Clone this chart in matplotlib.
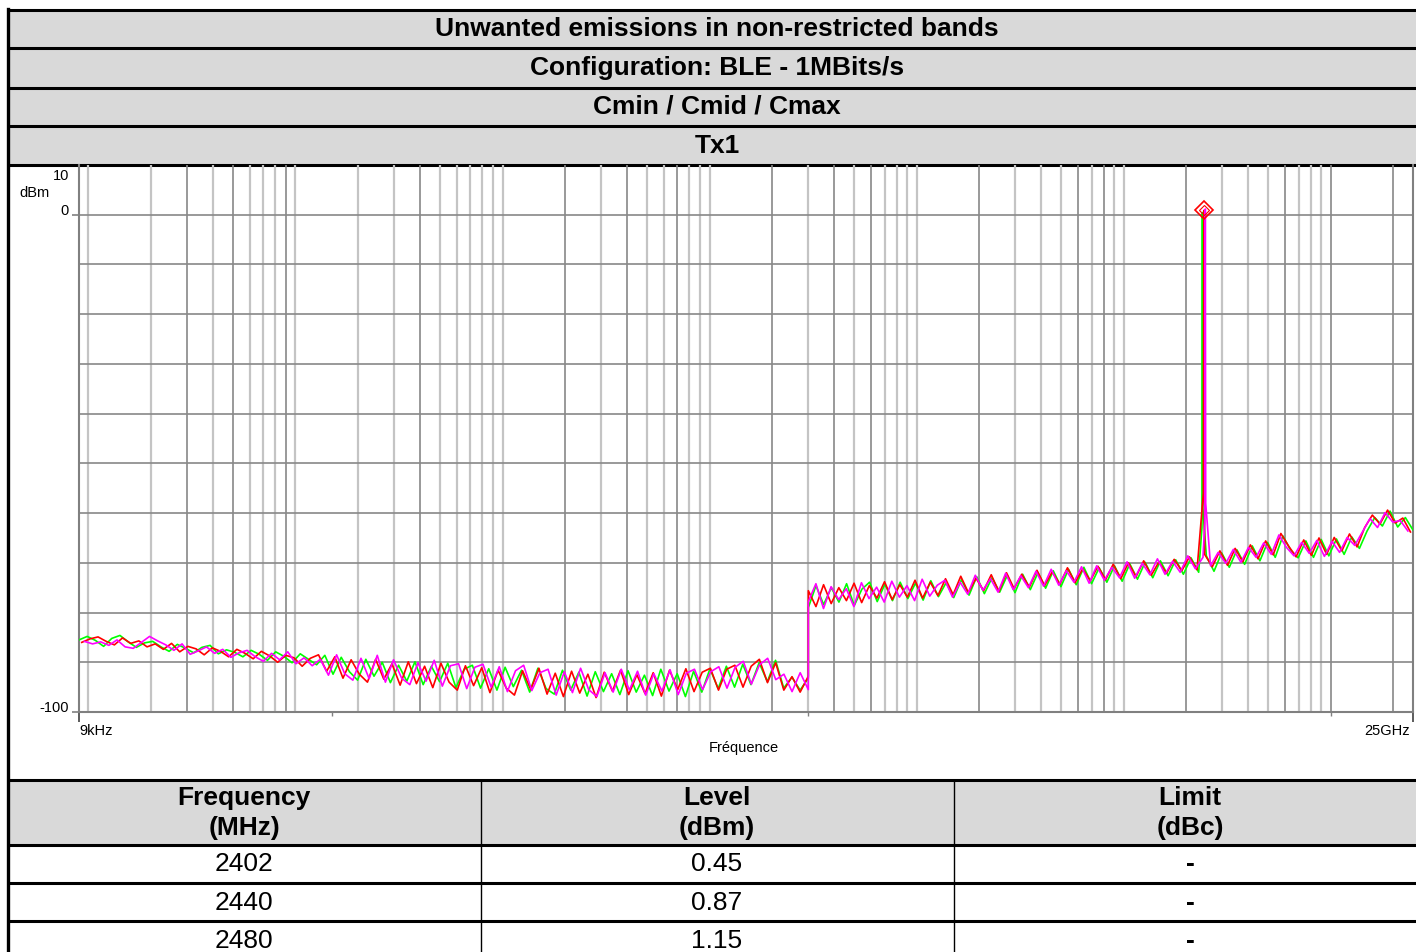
import numpy as np
import matplotlib.pyplot as plt
from matplotlib.patches import Rectangle
from matplotlib.ticker import NullFormatter
import matplotlib.transforms as mtransforms

plt.rcParams['font.family'] = ['Liberation Sans', 'DejaVu Sans']

# ---------------- data ----------------
title_rows = ['Unwanted emissions in non-restricted bands',
              'Configuration: BLE - 1MBits/s',
              'Cmin / Cmid / Cmax',
              'Tx1']
header_top = ['Frequency', 'Level', 'Limit']
header_unit = ['(MHz)', '(dBm)', '(dBc)']
channel_mhz = [2402, 2440, 2480]
channel_level = [0.45, 0.87, 1.15]
channel_limit = ['-', '-', '-']
skirt_level = [-63.0, -56.0, -62.0]
trace_colors = ['#00ff00', '#ff0000', '#ff00ff']

f_start, f_split, f_stop = 9e3, 30e6, 25e9

green_low = [-85.5, -84.8, -85.6, -86.8, -85.2, -84.6, -85.9, -87.0, -86.1, -85.8,
             -86.9, -87.8, -86.4, -87.2, -88.1, -87.0, -86.6, -88.3, -87.5, -88.0,
             -88.9, -87.6, -88.4, -89.6, -87.9, -88.8, -90.1, -88.3, -89.4, -90.5,
             -88.6, -92.4, -89.0, -91.9, -93.6, -89.4, -92.8, -90.0, -94.1, -90.6,
             -93.8, -89.9, -94.5, -90.8, -93.9, -90.2, -95.1, -91.4, -90.6, -95.2,
             -91.3, -95.6, -91.0, -94.9, -91.6, -96.0, -91.2, -95.3, -96.4, -91.6,
             -95.6, -92.0, -96.8, -91.9, -95.9, -92.3, -96.5, -91.7, -96.0, -92.6,
             -96.7, -91.4, -95.8, -92.3, -96.9, -91.8, -96.0, -91.3, -95.3, -90.8,
             -95.0, -90.4, -94.5, -90.1, -93.9, -89.6, -95.2, -93.0, -95.6, -93.2]
red_low = [-86.0, -85.3, -84.9, -85.8, -86.5, -85.1, -86.2, -85.7, -86.9, -86.3,
           -87.4, -86.2, -87.9, -86.8, -87.3, -88.5, -87.1, -87.8, -88.9, -87.4,
           -88.2, -89.3, -87.8, -88.7, -90.0, -88.6, -89.1, -90.8, -89.2, -88.5,
           -91.8, -88.9, -93.2, -89.5, -92.4, -94.0, -89.4, -93.4, -90.3, -94.6,
           -89.9, -94.3, -90.8, -95.1, -90.2, -94.0, -95.6, -90.7, -94.7, -91.1,
           -96.1, -91.6, -95.2, -96.6, -91.7, -95.5, -91.2, -96.4, -92.2, -96.9,
           -91.8, -96.2, -92.4, -97.1, -92.0, -95.8, -91.6, -96.5, -92.5, -96.3,
           -92.1, -96.8, -91.6, -95.5, -91.3, -95.9, -92.0, -91.2, -95.6, -91.4,
           -90.6, -95.0, -90.8, -89.4, -94.1, -90.1, -95.6, -92.9, -96.0, -92.8]
magenta_low = [-85.8, -86.3, -85.9, -86.6, -85.5, -86.9, -87.2, -86.0, -84.8, -85.7,
               -86.5, -87.6, -86.3, -88.4, -87.7, -86.9, -88.2, -87.4, -89.0, -88.1,
               -87.6, -88.9, -89.8, -88.2, -89.5, -87.9, -90.3, -89.1, -90.7, -89.4,
               -92.6, -88.5, -92.3, -93.6, -89.2, -93.3, -88.6, -94.0, -89.5, -93.2,
               -94.5, -90.1, -93.8, -89.6, -94.8, -90.7, -90.3, -95.3, -91.0, -90.4,
               -95.0, -90.9, -95.9, -91.7, -90.6, -95.7, -92.1, -91.4, -96.6, -91.9,
               -96.1, -91.2, -95.5, -96.9, -92.1, -96.0, -91.4, -95.6, -91.8, -96.6,
               -92.3, -95.8, -91.5, -96.5, -92.2, -91.4, -95.5, -91.9, -90.9, -95.2,
               -91.0, -89.8, -94.4, -90.5, -89.2, -93.5, -92.4, -95.9, -92.1, -95.5]

green_high = [-79.0, -74.6, -78.4, -75.0, -77.9, -74.2, -78.6, -75.3, -73.9, -77.8,
              -74.3, -77.6, -73.9, -77.2, -74.1, -77.5, -73.6, -76.8, -74.0, -77.0,
              -73.4, -76.5, -72.8, -76.2, -73.0, -75.9, -72.5, -76.0, -72.3, -75.4,
              -72.0, -75.1, -71.6, -74.8, -71.3, -74.4, -70.9, -74.2, -71.0, -73.9,
              -70.6, -73.7, -70.2, -73.3, -69.9, -73.0, -69.6, -72.6, -69.4, -72.3,
              -69.0, -71.9, -68.6, -71.7, -68.0, -70.9, -67.4, -70.3, -66.6, -69.6,
              -65.9, -68.9, -64.6, -67.4, -69.0, -65.6, -68.9, -65.3, -68.6, -65.2,
              -68.3, -64.8, -67.1, -63.6, -60.9, -62.6, -59.6, -62.8, -60.9, -63.4]
red_high = [-75.6, -78.8, -74.4, -78.2, -75.0, -77.6, -74.1, -78.0, -74.6, -77.1,
            -73.8, -77.4, -74.4, -76.9, -73.5, -77.1, -73.9, -76.6, -73.2, -76.4,
            -72.7, -76.0, -73.1, -75.6, -72.4, -75.8, -72.0, -75.2, -72.3, -74.9,
            -71.5, -74.6, -71.8, -74.3, -71.0, -74.0, -71.2, -73.6, -70.7, -73.4,
            -70.3, -73.2, -70.0, -72.8, -69.6, -72.5, -69.8, -72.1, -69.3, -71.6,
            -68.8, -71.4, -68.3, -70.8, -67.6, -70.5, -67.1, -69.8, -66.4, -69.2,
            -65.6, -68.4, -64.1, -66.6, -68.8, -65.4, -68.5, -65.0, -68.3, -64.9,
            -67.6, -64.2, -66.8, -62.9, -60.4, -62.2, -59.4, -62.0, -61.0, -63.8]
magenta_high = [-77.8, -74.2, -79.2, -74.8, -77.4, -75.2, -78.8, -74.0, -77.2, -74.9,
                -77.9, -73.7, -76.9, -74.6, -77.6, -73.3, -76.7, -74.5, -73.5, -76.9,
                -73.9, -76.3, -72.5, -75.5, -73.2, -75.9, -72.1, -75.4, -72.6, -75.0,
                -71.7, -74.7, -71.3, -74.5, -71.6, -73.9, -70.8, -74.1, -70.6, -73.5,
                -70.9, -73.0, -69.8, -73.1, -70.1, -72.4, -69.2, -72.3, -69.7, -71.9,
                -68.6, -71.2, -68.9, -70.6, -67.9, -70.1, -67.3, -69.9, -66.9, -68.9,
                -66.0, -68.3, -64.4, -66.9, -68.6, -65.9, -68.1, -65.5, -68.7, -65.7,
                -67.9, -64.9, -66.5, -63.8, -61.1, -62.9, -59.9, -61.8, -61.5, -63.6]

low_sweeps = [green_low, red_low, magenta_low]
high_sweeps = [green_high, red_high, magenta_high]
dark_grid = [30e3, 50e3, 90e3, 400e3, 2e6, 4e6, 7e6, 20e6, 40e6, 60e6,
             200e6, 600e6, 800e6, 2e9, 6e9, 10e9, 20e9]


def build_trace(low, high, f_c, peak, skirt, shift):
    # each sweep's sample grid is offset by a fraction of a bin
    r_lo = (f_split / f_start) ** (1 / (len(low) - 1))
    r_hi = (f_stop / f_split) ** (1 / (len(high) - 1))
    f_lo = np.geomspace(f_start * r_lo ** shift, f_split, len(low))
    f_hi = np.geomspace(f_split, f_stop / r_hi ** shift, len(high))
    f = np.concatenate([f_lo, f_hi,
                        [f_c * 0.995, f_c * 0.9995, f_c * 1.0005, f_c * 1.005]])
    y = np.concatenate([low, high, [skirt, peak, peak, skirt + 4]])
    order = np.argsort(f, kind='stable')
    return f[order], y[order]


fig = plt.figure(figsize=(14.16, 9.52), dpi=100)

# ---- surrounding table (pixel layout) ----
bg = fig.add_axes([0, 0, 1, 1])
bg.set_xlim(0, 1416)
bg.set_ylim(952, 0)
bg.axis('off')
grey = '#d9d9d9'
bg.add_patch(Rectangle((8, 10), 1419, 155, fc=grey, ec='none'))
bg.add_patch(Rectangle((8, 780), 1419, 65, fc=grey, ec='none'))
for yy in [10, 48, 88, 126, 165, 780, 845, 883, 921]:
    bg.plot([8, 1427], [yy, yy], color='black', lw=2.2, solid_capstyle='butt')
bg.plot([8, 8], [9, 952], color='black', lw=2.4)
for xx in [481, 954]:
    bg.plot([xx, xx], [780, 952], color='black', lw=1.0)

fs = 19
row_y = [29, 68, 106, 146]
for txt, yy in zip(title_rows, row_y):
    bg.text(717, yy, txt, ha='center', va='center', fontsize=fs, fontweight='bold')

col_x = [244, 717, 1190]
for cx, top, unit in zip(col_x, header_top, header_unit):
    bg.text(cx, 798, top, ha='center', va='center', fontsize=fs, fontweight='bold')
    bg.text(cx, 828, unit, ha='center', va='center', fontsize=fs, fontweight='bold')
for ry, fr, lv, lim in zip([864, 903, 941], channel_mhz, channel_level, channel_limit):
    bg.text(col_x[0], ry, str(fr), ha='center', va='center', fontsize=fs)
    bg.text(col_x[1], ry, '%.2f' % lv, ha='center', va='center', fontsize=fs)
    bg.text(col_x[2], ry, lim, ha='center', va='center', fontsize=fs, fontweight='bold')

# ---- spectrum plot ----
ax = fig.add_axes([79 / 1416, (952 - 712) / 952, (1413 - 79) / 1416, (712 - 165) / 952])
ax.set_zorder(2)
ax.patch.set_alpha(0)
ax.set_xscale('log')
ax.set_xlim(f_start, f_stop)
ax.set_ylim(-100, 10)

for dec in range(3, 11):
    for k in range(1, 10):
        f = k * 10.0 ** dec
        if f_start < f < f_stop:
            dark = any(abs(f / d - 1) < 1e-6 for d in dark_grid)
            ax.axvline(f, color='#888888' if dark else '#c4c4c4',
                       lw=1.2 if dark else 1.6, zorder=1)
for lv in range(-90, 10, 10):
    ax.axhline(lv, color='#888888', lw=1.2, zorder=1)

for i, (low, high, fc, pk, sk, col) in enumerate(zip(low_sweeps, high_sweeps, channel_mhz,
                                                     channel_level, skirt_level, trace_colors)):
    f, y = build_trace(low, high, fc * 1e6, pk, sk, i / 3)
    ax.plot(f, y, color=col, lw=1.2, zorder=3)

# peak marker
ax.plot(channel_mhz[1] * 1e6, channel_level[1], marker='D', ms=9, mfc='none',
        mec='red', mew=1.2, zorder=4)
ax.plot(channel_mhz[1] * 1e6, channel_level[1], marker='D', ms=5, mfc='none',
        mec='red', mew=0.8, zorder=4)

for side in ['left', 'bottom', 'right']:
    ax.spines[side].set_color('#808080')
    ax.spines[side].set_linewidth(1.5)
ax.spines['top'].set_visible(False)

ax.set_yticks([0, -100])
ax.set_yticklabels([])
ax.tick_params(axis='y', length=5, width=1.2, color='#808080')
ax.set_xticks([f_start, f_stop])
ax.set_xticklabels([])
ax.set_xticks([150e3, 30e6, 10e9], minor=True)
ax.xaxis.set_minor_formatter(NullFormatter())
ax.tick_params(axis='x', which='major', length=7, width=1.2, color='#404040')
ax.tick_params(axis='x', which='minor', length=3, width=1.0, color='#808080')

ytrans = mtransforms.blended_transform_factory(ax.transAxes, ax.transData)
ax.text(-0.0075, 0, '0', transform=ytrans, ha='right', va='baseline', fontsize=10.5)
ax.text(-0.0075, -100, '-100', transform=ytrans, ha='right', va='baseline', fontsize=10.5)
ax.text(-0.0075, 7, '10', transform=ytrans, ha='right', va='baseline', fontsize=10.5)
ax.text(-0.033, 3.5, 'dBm', transform=ytrans, ha='center', va='baseline', fontsize=10.5)

ax.annotate('9kHz', xy=(0, 0), xycoords='axes fraction', xytext=(0, -8.5),
            textcoords='offset points', ha='left', va='top', fontsize=10.5)
ax.annotate('25GHz', xy=(1, 0), xycoords='axes fraction', xytext=(-2.5, -8.5),
            textcoords='offset points', ha='right', va='top', fontsize=10.5)
ax.annotate('Fréquence', xy=(0.498, 0), xycoords='axes fraction', xytext=(0, -21),
            textcoords='offset points', ha='center', va='top', fontsize=10.5)

fig.savefig('out.png', dpi=100)
